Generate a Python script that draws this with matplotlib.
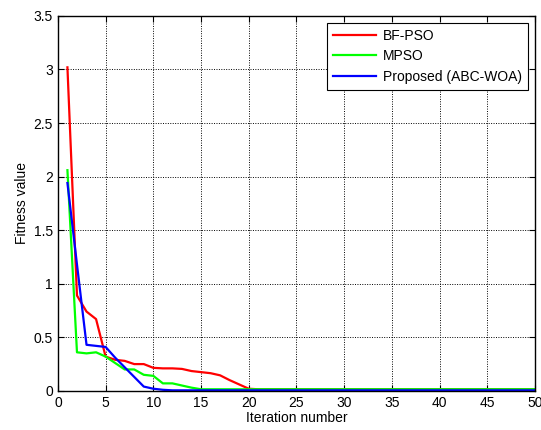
import numpy as np
import matplotlib.pyplot as plt

plt.rcParams['font.family'] = ['Liberation Sans', 'DejaVu Sans']

iterations = list(range(1, 51))

# BF-PSO
bfpso = [3.02, 0.89, 0.74, 0.67, 0.32, 0.29, 0.28, 0.25, 0.25, 0.215,
         0.21, 0.21, 0.205, 0.185, 0.175, 0.165, 0.145, 0.10, 0.06, 0.02] + [0.015] * 30
# MPSO
mpso = [2.06, 0.36, 0.35, 0.36, 0.32, 0.26, 0.20, 0.20, 0.15, 0.14,
        0.07, 0.07, 0.05, 0.03, 0.015] + [0.015] * 35
# Proposed (ABC-WOA)
proposed = [1.94, 1.18, 0.43, 0.42, 0.41, 0.31, 0.22, 0.13, 0.04, 0.02,
            0.01] + [0.005] * 39

fig = plt.figure(figsize=(5.41, 4.30), dpi=100)
ax = fig.add_axes([0.107, 0.091, 0.882, 0.872])

ax.plot(iterations, bfpso, color='#ff0000', lw=1.6, label='BF-PSO')
ax.plot(iterations, mpso, color='#00ff00', lw=1.6, label='MPSO')
ax.plot(iterations, proposed, color='#0000ff', lw=1.6, label='Proposed (ABC-WOA)')

ax.set_xlim(0, 50)
ax.set_ylim(0, 3.5)
ax.set_xticks(np.arange(0, 51, 5))
ax.set_yticks(np.arange(0, 3.51, 0.5))
ax.set_yticklabels(['0', '0.5', '1', '1.5', '2', '2.5', '3', '3.5'])
ax.grid(True, color='black', linestyle=(0, (1, 1.5)), linewidth=0.7)
ax.tick_params(direction='in', top=True, right=True, labelsize=10, length=4)
for s in ax.spines.values():
    s.set_linewidth(1.0)

ax.set_xlabel('Iteration number', fontsize=10, labelpad=1)
ax.set_ylabel('Fitness value', fontsize=10, labelpad=3)

leg = ax.legend(loc='upper right', fontsize=10, fancybox=False, framealpha=1,
                edgecolor='black', handlelength=3.1, handletextpad=0.5,
                borderaxespad=0.5, labelspacing=0.45, borderpad=0.45)
leg.get_frame().set_linewidth(0.8)

fig.savefig('out.png', dpi=100)
